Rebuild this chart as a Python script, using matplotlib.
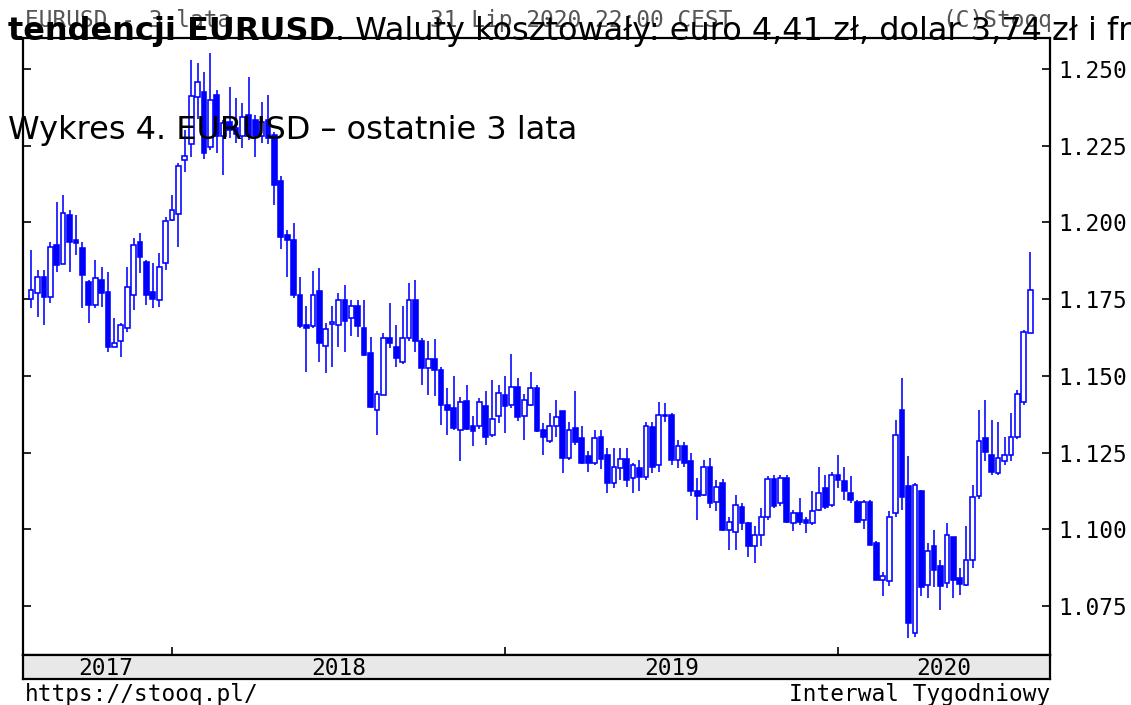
import matplotlib
matplotlib.use("Agg")
import matplotlib.pyplot as plt
from matplotlib.patches import Rectangle
import pandas as pd

# ---- data: EURUSD weekly candles ----
first_week_end = "2017-08-04"
opens = [1.1749, 1.1769, 1.1823, 1.1758, 1.1925, 1.1865, 1.2024, 1.1943, 1.1915, 1.1807,
         1.1731, 1.1812, 1.1774, 1.1595, 1.1614, 1.1655, 1.1763, 1.1937, 1.1872, 1.1772,
         1.1747, 1.1869, 1.2008, 1.2027, 1.2204, 1.2255, 1.2410, 1.2426, 1.2247, 1.2415,
         1.2280, 1.2328, 1.2307, 1.2280, 1.2350, 1.2334, 1.2280, 1.2334, 1.2285, 1.2135,
         1.1959, 1.1943, 1.1764, 1.1665, 1.1661, 1.1775, 1.1597, 1.1668, 1.1666, 1.1747,
         1.1688, 1.1726, 1.1655, 1.1574, 1.1389, 1.1438, 1.1622, 1.1595, 1.1546, 1.1622,
         1.1747, 1.1612, 1.1525, 1.1554, 1.1519, 1.1405, 1.1394, 1.1322, 1.1419, 1.1335,
         1.1335, 1.1400, 1.1308, 1.1368, 1.1438, 1.1405, 1.1465, 1.1368, 1.1405, 1.1460,
         1.1324, 1.1286, 1.1335, 1.1384, 1.1232, 1.1329, 1.1297, 1.1240, 1.1215, 1.1300,
         1.1242, 1.1150, 1.1200, 1.1230, 1.1166, 1.1198, 1.1170, 1.1334, 1.1210, 1.1370,
         1.1373, 1.1226, 1.1270, 1.1221, 1.1126, 1.1112, 1.1204, 1.1090, 1.1152, 1.0998,
         1.0992, 1.1074, 1.1020, 1.0944, 1.0982, 1.1041, 1.1163, 1.1085, 1.1166, 1.1020,
         1.1052, 1.1030, 1.1020, 1.1064, 1.1134, 1.1080, 1.1177, 1.1156, 1.1117, 1.1090,
         1.1030, 1.1090, 1.0955, 1.0833, 1.0832, 1.1052, 1.1389, 1.1140, 1.0661, 1.1123,
         1.0819, 1.0944, 1.0879, 1.0824, 1.0976, 1.0840, 1.0819, 1.0900, 1.1107, 1.1297,
         1.1243, 1.1182, 1.1221, 1.1242, 1.1300, 1.1416, 1.1641]
highs = [1.1910, 1.1845, 1.1845, 1.1937, 1.2067, 1.2089, 1.2040, 1.2024, 1.1937, 1.1812,
         1.1877, 1.1856, 1.1839, 1.1687, 1.1671, 1.1856, 1.1948, 1.1964, 1.1877, 1.1867,
         1.1899, 1.2019, 1.2089, 1.2195, 1.2300, 1.2529, 1.2518, 1.2490, 1.2551, 1.2432,
         1.2334, 1.2442, 1.2405, 1.2388, 1.2475, 1.2350, 1.2394, 1.2414, 1.2296, 1.2150,
         1.1975, 1.1997, 1.1823, 1.1726, 1.1840, 1.1851, 1.1671, 1.1726, 1.1769, 1.1796,
         1.1747, 1.1747, 1.1747, 1.1628, 1.1449, 1.1639, 1.1736, 1.1666, 1.1726, 1.1802,
         1.1812, 1.1622, 1.1612, 1.1621, 1.1530, 1.1460, 1.1498, 1.1430, 1.1470, 1.1370,
         1.1427, 1.1449, 1.1487, 1.1470, 1.1498, 1.1571, 1.1492, 1.1440, 1.1514, 1.1470,
         1.1345, 1.1378, 1.1421, 1.1386, 1.1351, 1.1449, 1.1335, 1.1255, 1.1324, 1.1323,
         1.1264, 1.1264, 1.1264, 1.1265, 1.1215, 1.1225, 1.1351, 1.1348, 1.1416, 1.1411,
         1.1378, 1.1291, 1.1285, 1.1248, 1.1166, 1.1226, 1.1231, 1.1160, 1.1165, 1.1040,
         1.1112, 1.1085, 1.1025, 1.1009, 1.1069, 1.1172, 1.1177, 1.1177, 1.1177, 1.1063,
         1.1101, 1.1041, 1.1123, 1.1204, 1.1177, 1.1185, 1.1242, 1.1204, 1.1172, 1.1096,
         1.1096, 1.1095, 1.0960, 1.0862, 1.1058, 1.1356, 1.1492, 1.1237, 1.1150, 1.1128,
         1.0954, 1.0998, 1.0900, 1.1020, 1.0976, 1.0875, 1.1009, 1.1145, 1.1389, 1.1422,
         1.1356, 1.1351, 1.1302, 1.1378, 1.1454, 1.1650, 1.1905]
lows = [1.1720, 1.1693, 1.1666, 1.1736, 1.1839, 1.1866, 1.1839, 1.1894, 1.1720, 1.1671,
        1.1720, 1.1725, 1.1579, 1.1595, 1.1562, 1.1644, 1.1714, 1.1834, 1.1731, 1.1720,
        1.1725, 1.1845, 1.2003, 1.1921, 1.2165, 1.2214, 1.2336, 1.2206, 1.2235, 1.2225,
        1.2155, 1.2275, 1.2258, 1.2242, 1.2268, 1.2214, 1.2258, 1.2257, 1.2057, 1.1914,
        1.1823, 1.1753, 1.1655, 1.1514, 1.1655, 1.1546, 1.1508, 1.1530, 1.1595, 1.1579,
        1.1630, 1.1628, 1.1565, 1.1394, 1.1307, 1.1438, 1.1590, 1.1530, 1.1540, 1.1615,
        1.1579, 1.1470, 1.1438, 1.1433, 1.1340, 1.1308, 1.1324, 1.1221, 1.1324, 1.1272,
        1.1325, 1.1275, 1.1300, 1.1346, 1.1313, 1.1395, 1.1352, 1.1291, 1.1400, 1.1318,
        1.1242, 1.1280, 1.1302, 1.1183, 1.1225, 1.1275, 1.1214, 1.1188, 1.1210, 1.1195,
        1.1117, 1.1134, 1.1160, 1.1139, 1.1117, 1.1123, 1.1160, 1.1183, 1.1188, 1.1350,
        1.1208, 1.1199, 1.1204, 1.1107, 1.1031, 1.1107, 1.1069, 1.1058, 1.0993, 1.0933,
        1.0933, 1.0998, 1.0911, 1.0889, 1.0944, 1.1030, 1.1070, 1.1075, 1.1020, 1.0993,
        1.1015, 1.0987, 1.1015, 1.1058, 1.1066, 1.1072, 1.1134, 1.1096, 1.1085, 1.1020,
        1.1000, 1.0947, 1.0835, 1.0781, 1.0815, 1.1040, 1.1064, 1.0645, 1.0650, 1.0781,
        1.0775, 1.0812, 1.0737, 1.0810, 1.0775, 1.0786, 1.0815, 1.0873, 1.1100, 1.1221,
        1.1177, 1.1177, 1.1210, 1.1222, 1.1295, 1.1405, 1.1641]
closes = [1.1780, 1.1823, 1.1758, 1.1921, 1.1861, 1.2029, 1.1937, 1.1932, 1.1828, 1.1731,
          1.1818, 1.1769, 1.1595, 1.1608, 1.1666, 1.1790, 1.1926, 1.1888, 1.1763, 1.1750,
          1.1856, 1.2003, 1.2041, 1.2184, 1.2217, 1.2412, 1.2459, 1.2225, 1.2399, 1.2280,
          1.2323, 1.2301, 1.2287, 1.2345, 1.2280, 1.2280, 1.2328, 1.2274, 1.2122, 1.1954,
          1.1943, 1.1764, 1.1661, 1.1655, 1.1764, 1.1606, 1.1652, 1.1674, 1.1747, 1.1677,
          1.1726, 1.1661, 1.1568, 1.1398, 1.1441, 1.1622, 1.1606, 1.1557, 1.1622, 1.1747,
          1.1612, 1.1525, 1.1554, 1.1519, 1.1405, 1.1387, 1.1329, 1.1413, 1.1326, 1.1319,
          1.1413, 1.1302, 1.1359, 1.1443, 1.1400, 1.1465, 1.1365, 1.1420, 1.1460, 1.1319,
          1.1302, 1.1335, 1.1367, 1.1232, 1.1324, 1.1285, 1.1215, 1.1216, 1.1296, 1.1230,
          1.1150, 1.1204, 1.1230, 1.1160, 1.1210, 1.1170, 1.1335, 1.1204, 1.1373, 1.1373,
          1.1226, 1.1270, 1.1215, 1.1123, 1.1108, 1.1204, 1.1085, 1.1137, 1.0998, 1.1025,
          1.1079, 1.1020, 1.0944, 1.0982, 1.1039, 1.1163, 1.1076, 1.1166, 1.1022, 1.1052,
          1.1025, 1.1020, 1.1058, 1.1117, 1.1074, 1.1177, 1.1161, 1.1123, 1.1096, 1.1025,
          1.1090, 1.0949, 1.0835, 1.0848, 1.1041, 1.1307, 1.1106, 1.0694, 1.1145, 1.0811,
          1.0928, 1.0868, 1.0814, 1.0982, 1.0835, 1.0820, 1.0900, 1.1104, 1.1289, 1.1253,
          1.1188, 1.1231, 1.1243, 1.1302, 1.1441, 1.1644, 1.1780]
y_ticks = [1.075, 1.100, 1.125, 1.150, 1.175, 1.200, 1.225, 1.250]
header_left = "EURUSD - 3 lata"
header_mid = "31 Lip 2020 22:00 CEST"
header_right = "(C)Stooq"
footer_left = "https://stooq.pl/"
footer_right = "Interwal Tygodniowy"
overlay_bold = "tendencji EURUSD"
overlay_rest = ". Waluty kosztowały: euro 4,41 zł, dolar 3,74 zł i franka"
overlay_line2 = "Wykres 4. EURUSD \u2013 ostatnie 3 lata"

# ---- layout ----
W, H = 1131, 705
BLUE = "#0000ff"
MONO = ["DejaVu Sans Mono"]
MONO_SIZE = 16.4

fig = plt.figure(figsize=(W / 100, H / 100), dpi=100)
fig.patch.set_facecolor("white")

def fx(px):
    return px / W

def fy(py):
    return 1 - py / H

ax = fig.add_axes([fx(23), fy(655), fx(1050) - fx(23), fy(38) - fy(655)])
dates = pd.date_range(first_week_end, periods=len(opens), freq="7D")
n = len(opens)
xs = list(range(n))

ax.vlines(xs, lows, highs, color=BLUE, linewidth=1.15, zorder=2)
bw = 0.74
for i in xs:
    o, c = opens[i], closes[i]
    lo, hi = min(o, c), max(o, c)
    hgt = max(hi - lo, 0.0001)
    up = c >= o
    ax.add_patch(Rectangle((i - bw / 2, lo), bw, hgt,
                           facecolor="white" if up else BLUE,
                           edgecolor=BLUE, linewidth=1.15, zorder=3))

x0, x1 = -1.265, 159.1
ax.set_xlim(x0, x1)
ax.set_ylim(1.059, 1.2601)

year_idx = [i for i in range(1, n) if dates[i].year != dates[i - 1].year]
ax.set_xticks(year_idx)
ax.tick_params(axis="x", direction="in", length=6, width=1.2, labelbottom=False,
               bottom=True, top=False)
ax.set_yticks(y_ticks)
ax.set_yticklabels([f"{v:.3f}" for v in y_ticks])
ax.tick_params(axis="y", direction="in", length=6, width=1.2, left=True, right=True,
               labelleft=False, labelright=True, labelsize=MONO_SIZE, pad=6)
for lab in ax.get_yticklabels():
    lab.set_family(MONO)
for s in ax.spines.values():
    s.set_linewidth(1.6)
    s.set_color("black")

# year strip
axs = fig.add_axes([fx(23), fy(679), fx(1050) - fx(23), fy(655) - fy(679)])
axs.set_facecolor("#e8e8e8")
axs.set_xlim(x0, x1)
axs.set_ylim(0, 1)
axs.set_xticks([])
axs.set_yticks([])
for s in axs.spines.values():
    s.set_linewidth(1.6)
bounds = [1.4] + year_idx + [x1]
years = [dates[0].year] + [dates[i].year for i in year_idx]
for k in range(len(bounds) - 1):
    xc = (bounds[k] + bounds[k + 1]) / 2
    axs.text(xc, 0.18, str(years[k]), ha="center", va="baseline", family=MONO,
             fontsize=MONO_SIZE, color="black")

# header / footer (monospace)
fig.text(fx(25), fy(27), header_left, family=MONO, fontsize=MONO_SIZE, color="#555555",
         va="baseline", ha="left")
fig.text(fx(430), fy(27), header_mid, family=MONO, fontsize=MONO_SIZE, color="#555555",
         va="baseline", ha="left")
fig.text(fx(1052), fy(27), header_right, family=MONO, fontsize=MONO_SIZE, color="#555555",
         va="baseline", ha="right")
fig.text(fx(25), fy(701), footer_left, family=MONO, fontsize=MONO_SIZE, color="black",
         va="baseline", ha="left")
fig.text(fx(1050), fy(701), footer_right, family=MONO, fontsize=MONO_SIZE, color="black",
         va="baseline", ha="right")

# overlaid web-page text
fig.canvas.draw()
r = fig.canvas.get_renderer()
base = 22
t2 = fig.text(fx(8), fy(139), overlay_line2, fontsize=base, color="black",
              family=["DejaVu Sans"], va="baseline", ha="left", zorder=10)
bb = t2.get_window_extent(r)
size = base * 570 / bb.width
t2.set_fontsize(size)
t1 = fig.text(fx(8), fy(40), overlay_bold, fontsize=size, fontweight="bold", color="black",
              family=["DejaVu Sans"], va="baseline", ha="left", zorder=10)
bb1 = t1.get_window_extent(r)
fig.text(bb1.x1 / W, fy(40), overlay_rest, fontsize=size, color="black",
         family=["DejaVu Sans"], va="baseline", ha="left", zorder=10)

fig.savefig("out.png", dpi=100)
